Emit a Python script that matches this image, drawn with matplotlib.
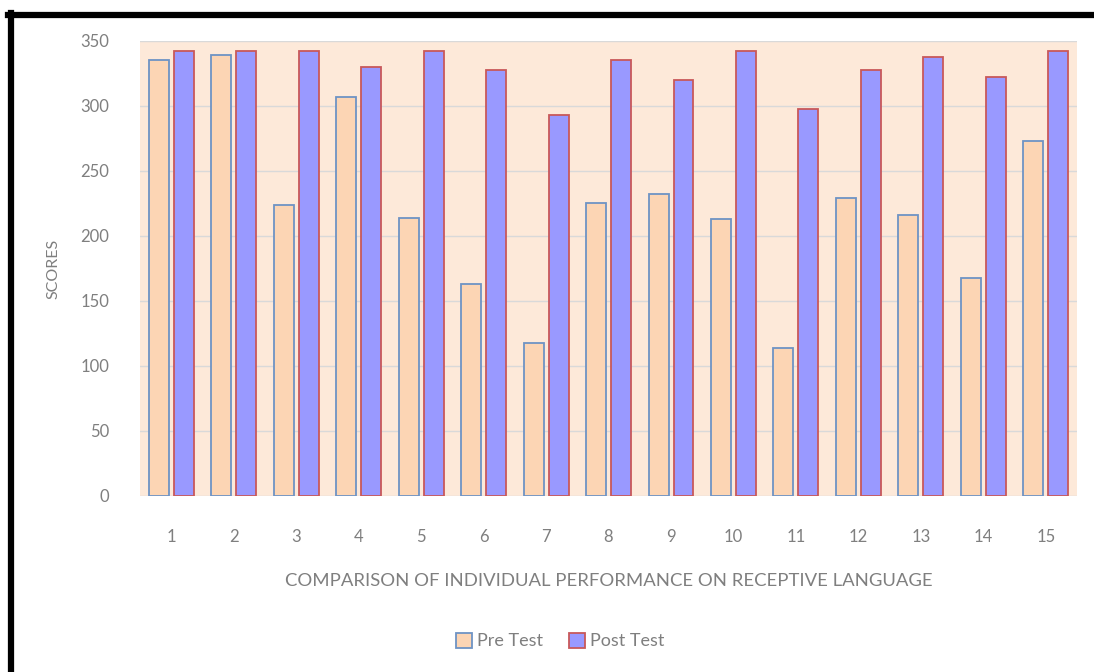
import numpy as np
import matplotlib.pyplot as plt
from matplotlib.lines import Line2D
from matplotlib.patches import Patch

# Scores per participant
participants = [str(i) for i in range(1, 16)]
pre_test = [335, 339, 224, 307, 214, 163, 118, 225, 232, 213, 114, 229, 216, 168, 273]
post_test = [342, 342, 342, 330, 342, 328, 293, 335, 320, 342, 298, 328, 338, 322, 342]

plt.rcParams['font.family'] = ['Lato', 'DejaVu Sans']
text_grey = '#7f7f7f'

fig = plt.figure(figsize=(10.94, 6.72), dpi=100)
ax = fig.add_axes([0.128, 0.262, 0.8565, 0.677])
ax.set_facecolor('#FDE9D9')

x = np.arange(len(participants))
w = 0.32
ax.bar(x - 0.2, pre_test, w, color='#FCD5B4', edgecolor='#6E93C4', linewidth=1.3, zorder=3, label='Pre Test')
ax.bar(x + 0.2, post_test, w, color='#9999FF', edgecolor='#C8585A', linewidth=1.3, zorder=3, label='Post Test')

ax.set_xlim(-0.5, len(participants) - 0.5)
ax.set_ylim(0, 350)
ax.set_yticks(range(0, 351, 50))
ax.set_xticks(x)
ax.set_xticklabels(participants)
ax.grid(axis='y', color='#D9D9D9', linewidth=1, zorder=0)
ax.tick_params(length=0, colors=text_grey, labelsize=12)
ax.tick_params(axis='x', pad=24)
ax.tick_params(axis='y', pad=22)
for s in ax.spines.values():
    s.set_visible(False)

ax.set_ylabel('SCORES', color=text_grey, fontsize=11.5)
ax.yaxis.set_label_coords(-0.085, 0.5)
ax.set_xlabel('COMPARISON OF INDIVIDUAL PERFORMANCE ON RECEPTIVE LANGUAGE', color=text_grey,
              fontsize=13.3, labelpad=20)

handles = [Patch(facecolor='#FCD5B4', edgecolor='#6E93C4', linewidth=1.3, label='Pre Test'),
           Patch(facecolor='#9999FF', edgecolor='#C8585A', linewidth=1.3, label='Post Test')]
fig.legend(handles=handles, loc='center', bbox_to_anchor=(0.512, 0.046), ncol=2, frameon=False,
           fontsize=13, labelcolor=text_grey, handlelength=0.9, handleheight=0.9,
           handletextpad=0.3, columnspacing=1.4)

# black frame on top and left edges
fig.add_artist(Line2D([0.0073, 1.0], [0.978, 0.978], color='black', linewidth=4.5))
fig.add_artist(Line2D([0.0100, 0.0100], [0.0, 0.981], color='black', linewidth=4.5))

fig.savefig('out.png', dpi=100)
